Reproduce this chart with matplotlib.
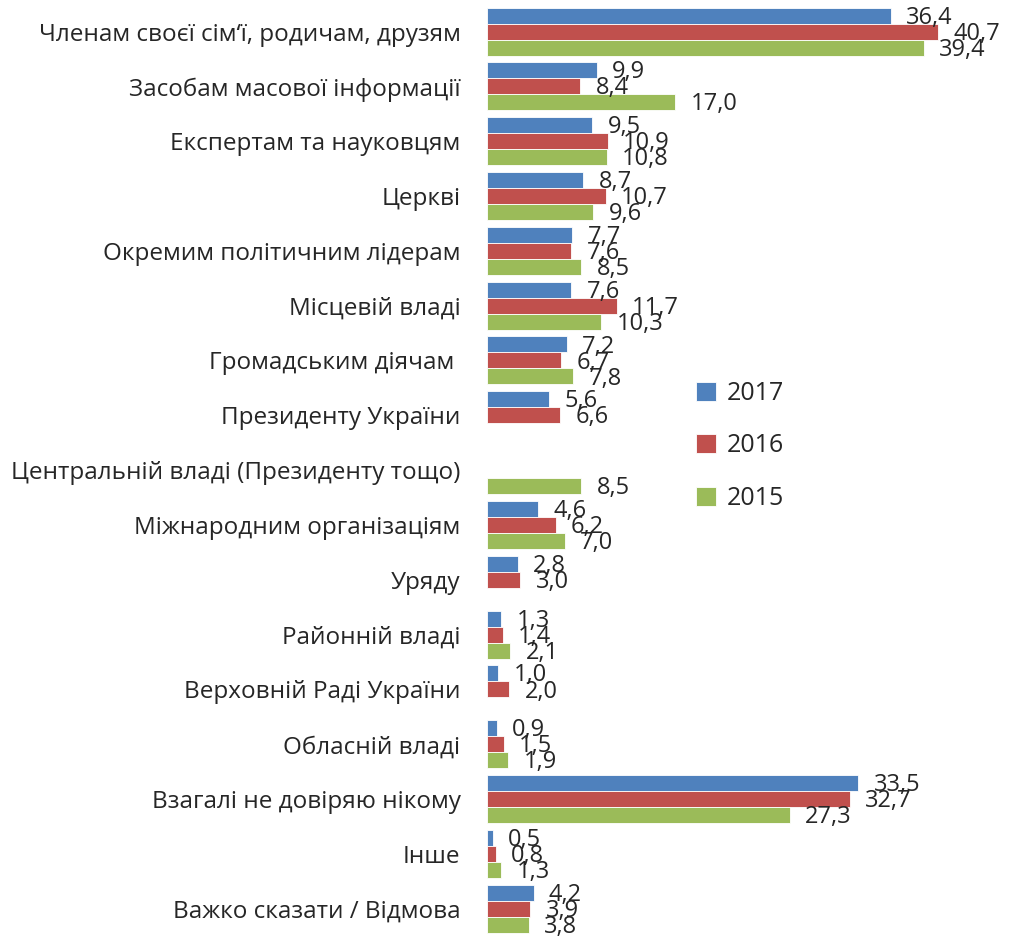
import numpy as np
import matplotlib
matplotlib.use("Agg")
import matplotlib.pyplot as plt

plt.rcParams['font.family'] = ['Open Sans', 'DejaVu Sans']

# Кому довіряють: дані з діаграми
categories = [
    "Членам своєї сім‘ї, родичам, друзям",
    "Засобам масової інформації",
    "Експертам та науковцям",
    "Церкві",
    "Окремим політичним лідерам",
    "Місцевій владі",
    "Громадським діячам ",
    "Президенту України",
    "Центральній владі (Президенту тощо)",
    "Міжнародним організаціям",
    "Уряду",
    "Районній владі",
    "Верховній Раді України",
    "Обласній владі",
    "Взагалі не довіряю нікому",
    "Інше",
    "Важко сказати / Відмова",
]
nan = np.nan
v2017 = [36.4, 9.9, 9.5, 8.7, 7.7, 7.6, 7.2, 5.6, nan, 4.6, 2.8, 1.3, 1.0, 0.9, 33.5, 0.5, 4.2]
v2016 = [40.7, 8.4, 10.9, 10.7, 7.6, 11.7, 6.7, 6.6, nan, 6.2, 3.0, 1.4, 2.0, 1.5, 32.7, 0.8, 3.9]
v2015 = [39.4, 17.0, 10.8, 9.6, 8.5, 10.3, 7.8, nan, 8.5, 7.0, nan, 2.1, nan, 1.9, 27.3, 1.3, 3.8]
series = [("2017", v2017, "#4F81BD"), ("2016", v2016, "#C0504D"), ("2015", v2015, "#9BBB59")]

fig = plt.figure(figsize=(10.15, 9.38), dpi=100)
ax = fig.add_axes([0.4798, 0.002, 0.5025, 0.9936])

y = np.arange(len(categories))
h = 0.292
txt = "#262626"
for i, (name, vals, col) in enumerate(series):
    pos = y + (i - 1) * h
    vals = np.array(vals)
    ax.barh(pos, vals, height=h, color=col, edgecolor="white", linewidth=0.6, label=name)
    for p, v in zip(pos, vals):
        if np.isnan(v):
            continue
        ax.annotate(f"{v:.1f}".replace(".", ","), xy=(v, p), xytext=(11, -1.5),
                    textcoords="offset points", va="center", ha="left",
                    fontsize=17, color=txt)

ax.set_xlim(0, 46)
ax.set_ylim(len(categories) - 0.5, -0.5)
ax.set_yticks(y)
ax.set_yticklabels(categories, fontsize=17.5, color=txt)
ax.tick_params(axis="y", length=0, pad=19)
ax.set_xticks([])
for s in ax.spines.values():
    s.set_visible(False)

ax.legend(loc="upper left", bbox_to_anchor=(0.664, 0.618), bbox_transform=fig.transFigure,
          frameon=False, fontsize=18, labelspacing=1.1, handlelength=0.8,
          handleheight=0.8, handletextpad=0.4, labelcolor=txt)

fig.savefig("out.png", dpi=100)
